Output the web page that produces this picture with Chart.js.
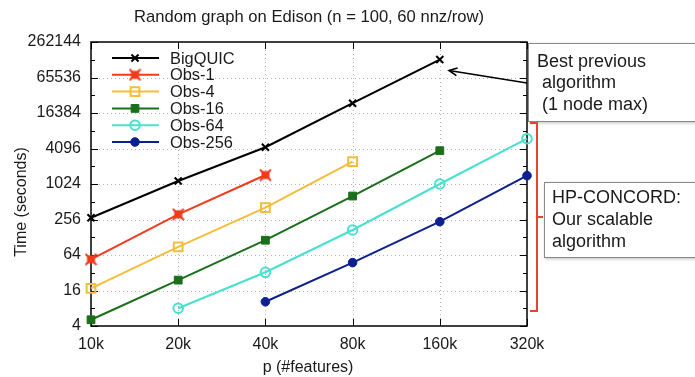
<!DOCTYPE html>
<html><head><meta charset="utf-8">
<script src="https://cdn.jsdelivr.net/npm/chart.js@4.4.1/dist/chart.umd.min.js"></script>
<style>html,body{margin:0;padding:0;background:#fff;overflow:hidden}#wrap{width:695px;height:377px;position:relative}</style>
</head><body><div id="wrap"><canvas id="c" width="695" height="377"></canvas></div>
<script>
const features = [10000, 20000, 40000, 80000, 160000, 320000];
const featureLabels = ['10k', '20k', '40k', '80k', '160k', '320k'];
const yTickValues = [4, 16, 64, 256, 1024, 4096, 16384, 65536, 262144];
const yMinorValues = [8, 32, 128, 512, 2048, 8192, 32768, 131072];
const seriesNames = ['BigQUIC', 'Obs-1', 'Obs-4', 'Obs-16', 'Obs-64', 'Obs-256'];
const bigQUIC = [274, 1150, 4300, 24000, 132000, null];
const obs1 = [54, 313, 1455, null, null, null];
const obs4 = [17.4, 88, 407, 2450, null, null];
const obs16 = [5.1, 24, 114, 640, 3760, null];
const obs64 = [null, 8, 32.6, 170, 1024, 6000];
const obs256 = [null, null, 10.3, 47.5, 235, 1420];
const titleText = 'Random graph on Edison (n = 100, 60 nnz/row)';
const xTitle = 'p (#features)';
const yTitle = 'Time (seconds)';
const note1 = ['Best previous', ' algorithm', ' (1 node max)'];
const note2 = ['HP-CONCORD:', 'Our scalable', 'algorithm'];

const FONT = '"Liberation Sans", Arial, Helvetica, sans-serif';

function toPoints(arr) {
  return features.map((x, i) => ({x: x, y: arr[i]})).filter(p => p.y !== null);
}

// red marker: filled square with an x across it
function makeBoxX(color) {
  const c = document.createElement('canvas');
  c.width = 13; c.height = 13;
  const g = c.getContext('2d');
  g.fillStyle = color;
  g.fillRect(2.5, 2.5, 8, 8);
  g.strokeStyle = color; g.lineWidth = 2;
  g.beginPath();
  g.moveTo(1, 1); g.lineTo(12, 12);
  g.moveTo(12, 1); g.lineTo(1, 12);
  g.stroke();
  return c;
}
const redMarker = makeBoxX('#f23a1c');

const styles = [
  {color: '#000000', pointStyle: 'crossRot', radius: 5, fill: '#000000', bw: 2},
  {color: '#f23a1c', pointStyle: redMarker, radius: 6, fill: '#f23a1c', bw: 2},
  {color: '#f5bd3a', pointStyle: 'rect', radius: 6.2, fill: 'rgba(255,255,255,0)', bw: 2},
  {color: '#1b6f1b', pointStyle: 'rect', radius: 5.5, fill: '#1b6f1b', bw: 1},
  {color: '#48e0cf', pointStyle: 'circle', radius: 4.8, fill: 'rgba(255,255,255,0)', bw: 2},
  {color: '#0d2090', pointStyle: 'circle', radius: 4.3, fill: '#0d2090', bw: 1}
];
const allSeries = [bigQUIC, obs1, obs4, obs16, obs64, obs256];

const datasets = allSeries.map((arr, i) => ({
  label: seriesNames[i],
  data: toPoints(arr),
  borderColor: styles[i].color,
  backgroundColor: styles[i].fill,
  borderWidth: 2,
  pointStyle: styles[i].pointStyle,
  pointRadius: styles[i].radius,
  pointBorderWidth: styles[i].bw,
  pointBorderColor: styles[i].color,
  pointBackgroundColor: styles[i].fill,
  tension: 0,
  clip: false
}));

const decor = {
  id: 'decor',
  beforeDatasetsDraw(chart) {
    const ctx = chart.ctx, a = chart.chartArea;
    const xs = chart.scales.x, ys = chart.scales.y;
    ctx.save();
    ctx.strokeStyle = '#b5b5b5'; ctx.lineWidth = 1; ctx.setLineDash([1, 3]);
    yTickValues.slice(1, -1).forEach(v => {
      const y = Math.round(ys.getPixelForValue(v)) + 0.5;
      ctx.beginPath(); ctx.moveTo(a.left, y); ctx.lineTo(a.right, y); ctx.stroke();
    });
    features.slice(1, -1).forEach(v => {
      const x = Math.round(xs.getPixelForValue(v)) + 0.5;
      ctx.beginPath(); ctx.moveTo(x, a.top); ctx.lineTo(x, a.bottom); ctx.stroke();
    });
    ctx.setLineDash([]);
    // ticks
    ctx.strokeStyle = '#000'; ctx.lineWidth = 1;
    yTickValues.forEach(v => {
      const y = Math.round(ys.getPixelForValue(v)) + 0.5;
      ctx.beginPath(); ctx.moveTo(a.left, y); ctx.lineTo(a.left + 7, y);
      ctx.moveTo(a.right, y); ctx.lineTo(a.right - 7, y); ctx.stroke();
    });
    yMinorValues.forEach(v => {
      const y = Math.round(ys.getPixelForValue(v)) + 0.5;
      ctx.beginPath(); ctx.moveTo(a.left, y); ctx.lineTo(a.left + 4, y);
      ctx.moveTo(a.right, y); ctx.lineTo(a.right - 4, y); ctx.stroke();
    });
    features.forEach(v => {
      const x = Math.round(xs.getPixelForValue(v)) + 0.5;
      ctx.beginPath(); ctx.moveTo(x, a.bottom); ctx.lineTo(x, a.bottom - 7);
      ctx.moveTo(x, a.top); ctx.lineTo(x, a.top + 7); ctx.stroke();
    });
    // frame
    ctx.lineWidth = 1.5;
    ctx.strokeRect(a.left, a.top, a.right - a.left, a.bottom - a.top);
    ctx.restore();
  },
  afterDraw(chart) {
    const ctx = chart.ctx, a = chart.chartArea;
    ctx.save();
    ctx.fillStyle = '#1a1a1a';
    ctx.textBaseline = 'middle';
    // title
    ctx.font = '16.6px ' + FONT; ctx.textAlign = 'center';
    ctx.fillText(titleText, 309, 17);
    // x title
    ctx.font = '16px ' + FONT;
    ctx.fillText(xTitle, 308, 368);
    // y title
    ctx.save(); ctx.translate(22, 202); ctx.rotate(-Math.PI / 2);
    ctx.fillText(yTitle, 0, 0); ctx.restore();
    // legend
    ctx.textAlign = 'left';
    ctx.font = '16.4px ' + FONT;
    chart.data.datasets.forEach((ds, i) => {
      const y = 58 + i * 16.8;
      ctx.strokeStyle = ds.borderColor; ctx.lineWidth = 2;
      ctx.beginPath(); ctx.moveTo(112, y); ctx.lineTo(159, y); ctx.stroke();
      ctx.fillStyle = ds.pointBackgroundColor;
      ctx.strokeStyle = ds.pointBorderColor;
      ctx.lineWidth = ds.pointBorderWidth;
      Chart.helpers.drawPoint(ctx, {
        pointStyle: ds.pointStyle, radius: ds.pointRadius, rotation: 0,
        borderWidth: ds.pointBorderWidth
      }, 135, y);
      ctx.fillStyle = '#1a1a1a';
      ctx.fillText(ds.label, 170, y + 1);
    });
    // annotation boxes
    ctx.shadowColor = 'rgba(0,0,0,0.25)'; ctx.shadowBlur = 3; ctx.shadowOffsetX = 1; ctx.shadowOffsetY = 1;
    ctx.fillStyle = '#fff';
    ctx.fillRect(528, 43, 170, 79);
    ctx.fillRect(544, 182, 160, 76);
    ctx.shadowColor = 'transparent';
    ctx.strokeStyle = '#8a8a8a'; ctx.lineWidth = 1;
    ctx.strokeRect(528.5, 43.5, 170, 78);
    ctx.strokeRect(544.5, 182.5, 160, 75);
    ctx.fillStyle = '#1a1a1a';
    ctx.font = '18px ' + FONT;
    note1.forEach((t, i) => ctx.fillText(t, 537, 62 + i * 21.5));
    note2.forEach((t, i) => ctx.fillText(t, 552, 198 + i * 22));
    // arrow
    ctx.strokeStyle = '#000'; ctx.lineWidth = 1.6;
    const x1 = 527, y1 = 83, x2 = 449, y2 = 70.5;
    ctx.beginPath(); ctx.moveTo(x1, y1); ctx.lineTo(x2, y2); ctx.stroke();
    const ang = Math.atan2(y2 - y1, x2 - x1);
    ctx.beginPath();
    ctx.moveTo(x2 + 9 * Math.cos(ang + Math.PI - 0.45), y2 + 9 * Math.sin(ang + Math.PI - 0.45));
    ctx.lineTo(x2, y2);
    ctx.lineTo(x2 + 9 * Math.cos(ang + Math.PI + 0.45), y2 + 9 * Math.sin(ang + Math.PI + 0.45));
    ctx.stroke();
    // red bracket
    ctx.strokeStyle = '#e6442c'; ctx.lineWidth = 2;
    ctx.beginPath();
    ctx.moveTo(530, 123); ctx.lineTo(537, 123); ctx.lineTo(537, 311); ctx.lineTo(530, 311);
    ctx.moveTo(537, 217); ctx.lineTo(543, 217);
    ctx.stroke();
    ctx.restore();
  }
};

new Chart(document.getElementById('c'), {
  type: 'line',
  data: {datasets: datasets},
  plugins: [decor],
  options: {
    responsive: false, animation: false, devicePixelRatio: 1,
    layout: {padding: {left: 0, right: 168, top: 42, bottom: 0}},
    plugins: {legend: {display: false}, title: {display: false}, tooltip: {enabled: false}},
    scales: {
      x: {
        type: 'logarithmic', min: 10000, max: 320000,
        afterBuildTicks: s => { s.ticks = features.map(v => ({value: v})); },
        afterFit: s => { s.height = 51; },
        grid: {display: false, drawTicks: false}, border: {display: false},
        ticks: {
          autoSkip: false, maxRotation: 0, padding: 9, color: '#1a1a1a',
          font: {size: 16, family: FONT},
          callback: v => featureLabels[features.indexOf(v)]
        }
      },
      y: {
        type: 'logarithmic', min: 4, max: 262144,
        afterBuildTicks: s => { s.ticks = yTickValues.map(v => ({value: v})); },
        afterFit: s => { s.width = 91; },
        grid: {display: false, drawTicks: false}, border: {display: false},
        ticks: {
          autoSkip: false, padding: 10, color: '#1a1a1a',
          font: {size: 16, family: FONT},
          callback: v => String(v)
        }
      }
    }
  }
});
</script></body></html>
